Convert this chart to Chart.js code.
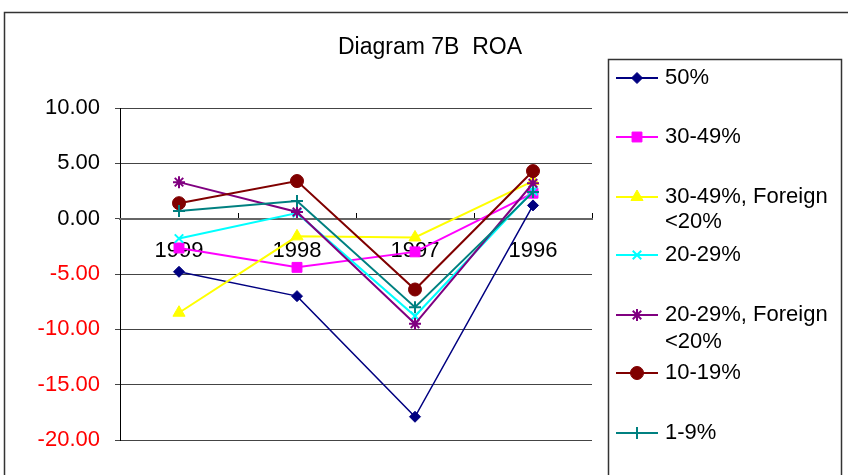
<!DOCTYPE html>
<html><head><meta charset="utf-8">
<script src="https://cdn.jsdelivr.net/npm/chart.js@4/dist/chart.umd.min.js"></script>
<style>html,body{margin:0;padding:0;background:#fff;overflow:hidden}#wrap{position:relative;width:848px;height:475px}</style>
</head><body><div id="wrap"><canvas id="c" width="848" height="475"></canvas></div>
<script>
// ---- data ----
const categories = ['1999', '1998', '1997', '1996'];
const titleText = 'Diagram 7B  ROA';
const seriesNames = ['50%', '30-49%', '30-49%, Foreign <20%', '20-29%', '20-29%, Foreign <20%', '10-19%', '1-9%'];
const s50 = [-4.8, -7.0, -17.9, 1.2];
const s30_49 = [-2.65, -4.4, -3.0, 2.3];
const s30_49F = [-8.5, -1.6, -1.7, 3.4];
const s20_29 = [-1.8, 0.5, -8.8, 2.5];
const s20_29F = [3.3, 0.6, -9.5, 3.2];
const s10_19 = [1.4, 3.4, -6.4, 4.3];
const s1_9 = [0.7, 1.6, -8.0, 2.4];
const yMin = -20, yMax = 10, yStep = 5;

// ---- styles ----
const FONT = "'Liberation Sans', Arial, sans-serif";
const seriesData = [s50, s30_49, s30_49F, s20_29, s20_29F, s10_19, s1_9];
const colors = ['#000080', '#FF00FF', '#FFFF00', '#00FFFF', '#800080', '#800000', '#008080'];
const pStyles = ['rectRot', 'rect', 'triangle', 'crossRot', 'star', 'circle', 'cross'];
const pRadius = [5.5, 7, 7, 6, 6, 6.5, 6];
const lineW = [1.5, 2, 2, 2, 2, 2, 2];
const legendY = [[78], [137], [197, 222], [255], [315, 342], [373], [433]];

const datasets = seriesData.map((d, i) => ({
  label: seriesNames[i],
  data: d,
  borderColor: colors[i],
  backgroundColor: colors[i],
  pointBackgroundColor: colors[i],
  pointBorderColor: colors[i],
  pointStyle: pStyles[i],
  pointRadius: pRadius[i],
  pointBorderWidth: (pStyles[i] === 'crossRot' || pStyles[i] === 'star' || pStyles[i] === 'cross') ? 2 : 1,
  borderWidth: lineW[i],
  tension: 0,
  order: -i
}));

const decor = {
  id: 'decor',
  beforeDraw(chart) {
    const ctx = chart.ctx;
    ctx.save();
    ctx.fillStyle = '#fff';
    ctx.fillRect(0, 0, chart.width, chart.height);
    ctx.strokeStyle = '#333';
    ctx.lineWidth = 1.5;
    ctx.strokeRect(4.5, 12.5, 1000, 1000);
    ctx.fillStyle = '#000';
    ctx.font = '23px ' + FONT;
    ctx.textAlign = 'center';
    ctx.textBaseline = 'middle';
    ctx.fillText(titleText, 430, 48);
    ctx.restore();
  },
  afterDraw(chart) {
    const ctx = chart.ctx;
    ctx.save();
    ctx.strokeStyle = '#333';
    ctx.lineWidth = 1.5;
    ctx.strokeRect(608.5, 59.5, 233, 600);
    chart.data.datasets.forEach((ds, i) => {
      const ys = legendY[i];
      const y = ys[0];
      ctx.strokeStyle = ds.borderColor;
      ctx.lineWidth = 2;
      ctx.beginPath();
      ctx.moveTo(616, y);
      ctx.lineTo(658, y);
      ctx.stroke();
      ctx.fillStyle = ds.backgroundColor;
      ctx.strokeStyle = ds.borderColor;
      ctx.lineWidth = ds.pointBorderWidth;
      Chart.helpers.drawPoint(ctx, {pointStyle: ds.pointStyle, radius: ds.pointRadius, rotation: 0, borderWidth: ds.pointBorderWidth}, 637, y);
      const name = ds.label;
      const lines = ys.length > 1 ? [name.slice(0, name.indexOf(' <')), name.slice(name.indexOf(' <') + 1)] : [name];
      ctx.fillStyle = '#000';
      ctx.font = '22px ' + FONT;
      ctx.textAlign = 'left';
      ctx.textBaseline = 'middle';
      lines.forEach((t, k) => ctx.fillText(t, 665, ys[k]));
    });
    ctx.restore();
  }
};

new Chart(document.getElementById('c'), {
  type: 'line',
  data: { labels: categories, datasets },
  options: {
    responsive: false,
    animation: false,
    devicePixelRatio: 1,
    layout: { padding: { left: 0, top: 108, right: 256, bottom: 35 } },
    plugins: { legend: { display: false }, title: { display: false }, tooltip: { enabled: false } },
    scales: {
      y: {
        min: yMin, max: yMax,
        afterFit(s) { s.width = 120; },
        ticks: {
          stepSize: yStep,
          padding: 15,
          color: c => c.tick.value < 0 ? '#FF0000' : '#000000',
          font: { family: FONT, size: 22 },
          callback: v => v.toFixed(2)
        },
        grid: { color: '#444', lineWidth: 1, tickLength: 5, drawTicks: true },
        border: { display: true, color: '#000', width: 1 }
      },
      x: {
        type: 'category',
        position: { y: 0 },
        offset: true,
        afterFit(s) { s.height = 0; },
        ticks: { padding: 26, color: '#000', font: { family: FONT, size: 22 }, maxRotation: 0, autoSkip: false },
        grid: { offset: true, drawOnChartArea: false, drawTicks: true, tickLength: -7, color: '#000' },
        border: { display: true, color: '#666', width: 2 }
      }
    }
  },
  plugins: [decor]
});
</script>
</body></html>
